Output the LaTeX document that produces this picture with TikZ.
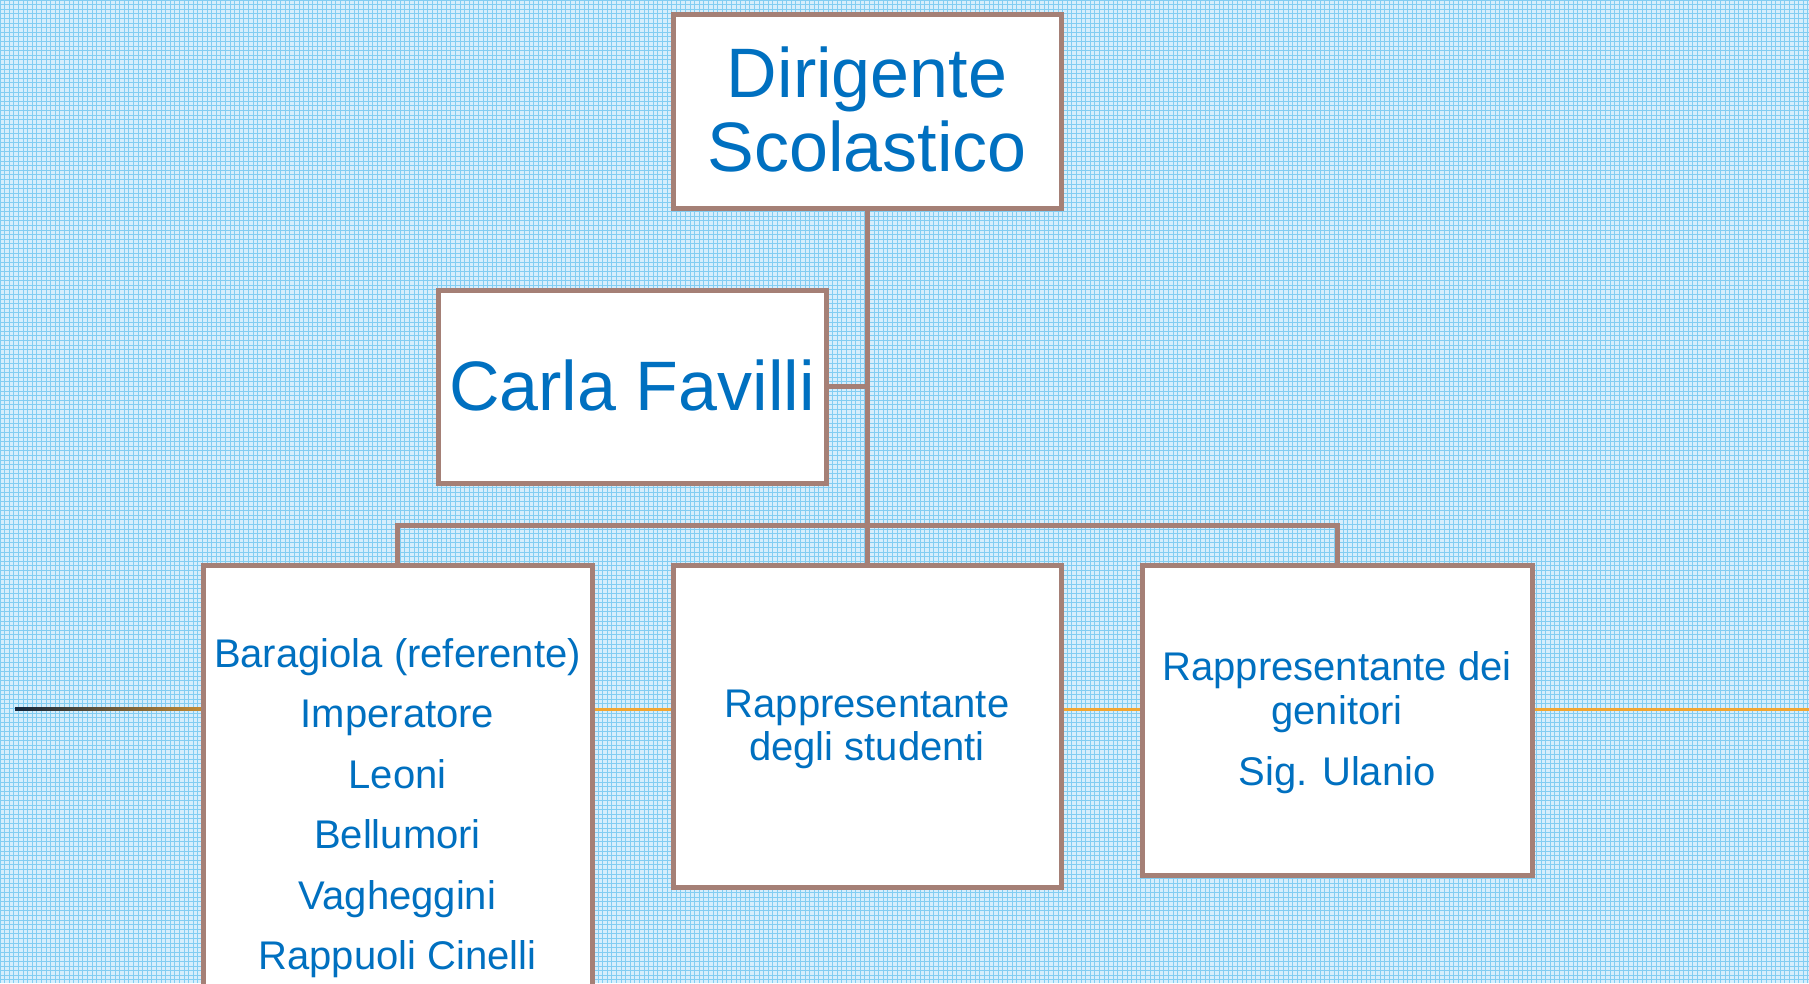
\documentclass[tikz,border=0pt]{standalone}
\usepackage{fontspec}
\setmainfont{Liberation Sans}
\definecolor{bgblue}{RGB}{214,238,252}
\definecolor{gridblue}{RGB}{130,205,242}
\definecolor{boxline}{RGB}{165,128,118}
\definecolor{txtblue}{RGB}{0,112,192}
\definecolor{orangeline}{RGB}{242,166,50}
\definecolor{darkline}{RGB}{20,38,60}
\tikzset{
  orgbox/.style={draw=boxline, line width=5pt, fill=white, rectangle, inner sep=0pt},
  conn/.style={draw=boxline, line width=5pt},
  bigtxt/.style={text=txtblue, inner sep=0pt, anchor=base, font=\fontsize{70}{84}\selectfont},
  smalltxt/.style={text=txtblue, inner sep=0pt, anchor=base, font=\fontsize{40}{48}\selectfont}
}
\begin{document}
\begin{tikzpicture}[x=1pt,y=-1pt]
\useasboundingbox (0,0) rectangle (1809,983);
\clip (0,0) rectangle (1809,983);
% background
\fill[bgblue] (0,0) rectangle (1809,983);
\draw[gridblue, line width=1pt] (0,0) grid[step=4.6pt] (1809,983);
% horizontal line across
\shade[left color=darkline, right color=orangeline!80!darkline] (15,707.5) rectangle (205,710.5);
\fill[orangeline] (205,707.5) rectangle (1809,710.5);
% boxes
\node[orgbox, minimum width=388pt, minimum height=194pt] (top) at (867,111) {};
\node[orgbox, minimum width=388pt, minimum height=193pt] (carla) at (632,386.5) {};
\node[orgbox, minimum width=389pt, minimum height=470pt] (left) at (397.5,800) {};
\node[orgbox, minimum width=388pt, minimum height=322pt] (mid) at (867,726) {};
\node[orgbox, minimum width=390pt, minimum height=310pt] (right) at (1337,720) {};
% connectors
\coordinate (bus) at (867,525);
\draw[conn] (top.south) -- (mid.north);
\draw[conn] (carla.east) -- (top.south |- carla.east);
\draw[conn] (left.north) |- (bus) -| (right.north);
% texts
\node[bigtxt] (t1) at (867,97) {Dirigente};
\node[bigtxt] (t2) at (867,171) {Scolastico};
\node[bigtxt] (c1) at (632,410) {Carla Favilli};
\node[smalltxt] (l1) at (397.5,667) {Baragiola (referente)};
\node[smalltxt] (l2) at (397.5,727) {Imperatore};
\node[smalltxt] (l3) at (397.5,788) {Leoni};
\node[smalltxt] (l4) at (397.5,848) {Bellumori};
\node[smalltxt] (l5) at (397.5,909) {Vagheggini};
\node[smalltxt] (l6) at (397.5,969) {Rappuoli Cinelli};
\node[smalltxt] (m1) at (867,717) {Rappresentante};
\node[smalltxt] (m2) at (867,760) {degli studenti};
\node[smalltxt] (r1) at (1337,680) {Rappresentante dei};
\node[smalltxt] (r2) at (1337,724) {genitori};
\node[smalltxt] (r3) at (1337,785) {Sig. Ulanio};
\end{tikzpicture}
\end{document}
